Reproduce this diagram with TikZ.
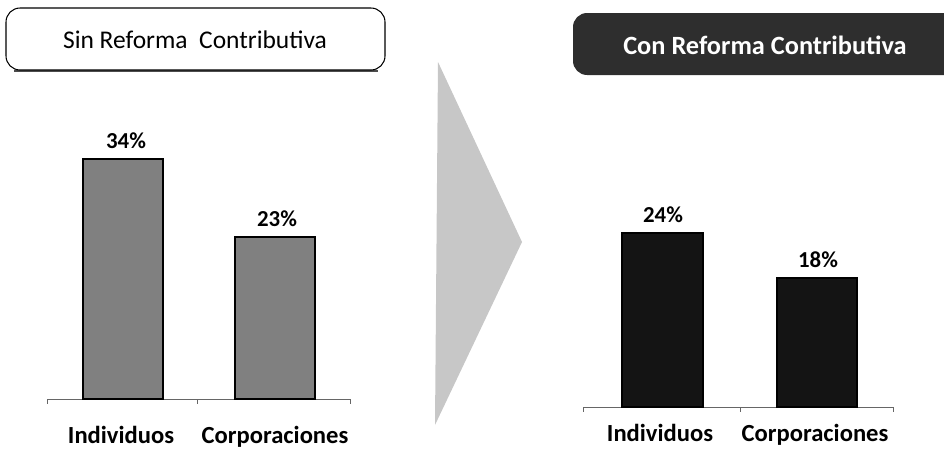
\documentclass[tikz,border=0pt]{standalone}
\usepackage{fontspec}
\setmainfont{Carlito}
\usetikzlibrary{positioning}
\tikzset{lbar/.style={fill=black!50,draw=black,line width=0.6pt},
         rbar/.style={fill=black!92,draw=black,line width=0.6pt},
         axis/.style={draw=black!60,line width=0.5pt},
         val/.style={anchor=base,font=\fontsize{13}{15}\selectfont\bfseries},
         cat/.style={anchor=base,font=\fontsize{14}{16}\selectfont\bfseries}}

\begin{document}
\begin{tikzpicture}[x=0.02cm, y=-0.02cm]
    \useasboundingbox (0,0) rectangle (944,460);
    \clip (0,0) rectangle (944,460);
    % titles
    \draw[black!70, line width=1.4pt] (14,71) -- (378,71);
    \draw[fill=white, draw=black, line width=0.6pt, rounded corners=8] (6,8) rectangle (385,70);
    \node[font=\fontsize{14.5}{16}\selectfont] (sin) at (195,40) {Sin Reforma\ \ Contributiva};
    \fill[black!82, rounded corners=8] (573,13) rectangle (962,75);
    \node[font=\fontsize{15}{17}\selectfont\bfseries, text=white] (con) at (765,45) {Con Reforma Contributiva};
    % arrow
    \fill[black!22] (438,62) -- (522,242) -- (435,425) -- cycle;
    % left chart
    \draw[axis] (47,399) -- (350,399);
    \draw[axis] (47,399) -- (47,404) (197,399) -- (197,404) (350,399) -- (350,404);
    \draw[lbar] (83,399) rectangle (163,159);
    \draw[lbar] (235,399) rectangle (315,237);
    \node[val] (v34) at (126,148) {34\%};
    \node[val] (v23) at (277,226) {23\%};
    \node[cat] (ind1) at (121,443) {Individuos};
    \node[cat] (cor1) at (275,443) {Corporaciones};
    % right chart
    \draw[axis] (583,407) -- (893,407);
    \draw[axis] (583,407) -- (583,412) (740,407) -- (740,412) (893,407) -- (893,412);
    \draw[rbar] (622,407) rectangle (703,233);
    \draw[rbar] (777,407) rectangle (857,278);
    \node[val] (v24) at (663,222) {24\%};
    \node[val] (v18) at (818,267) {18\%};
    \node[cat] (ind2) at (660,441) {Individuos};
    \node[cat] (cor2) at (815,441) {Corporaciones};
\end{tikzpicture}
\end{document}
